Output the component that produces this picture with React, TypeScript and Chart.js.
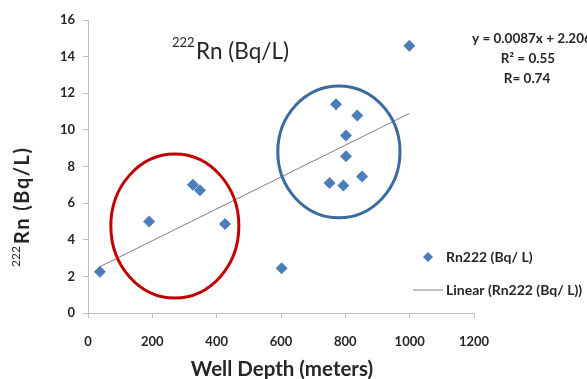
import React, { useEffect, useRef } from "react";
import { Chart, registerables } from "chart.js";

Chart.register(...registerables);

// ---- data ----
const wellDepth: number[] = [37, 190, 326, 348, 426, 602, 999, 771, 837, 802, 802, 751, 794, 852];
const rn222: number[] = [2.25, 5.0, 7.0, 6.7, 4.86, 2.44, 14.6, 11.4, 10.78, 9.69, 8.56, 7.1, 6.96, 7.45];
const trendSlope = [0.0087];
const trendIntercept = [2.206];
const xTicks = [0, 200, 400, 600, 800, 1000, 1200];
const yTicks = [0, 2, 4, 6, 8, 10, 12, 14, 16];
// ellipse annotations: [centerX, centerY, radiusX (m), radiusY (Bq/L)]
const redEllipse = [270, 4.75, 199, 3.93];
const blueEllipse = [780, 8.8, 190, 3.6];
const equationLines = ["y = 0.0087x + 2.206", "R\u00B2 = 0.55", "R= 0.74"];
const legendLabels = ["Rn222 (Bq/ L)", "Linear (Rn222 (Bq/ L))"];

const FONT = "Lato, 'Open Sans', sans-serif";
const TEXT = "#262626";
const MARKER = "#4a7ebb";

const decorPlugin = {
  id: "decor",
  afterDatasetsDraw(chart: any) {
    const ctx = chart.ctx as CanvasRenderingContext2D;
    const xs = chart.scales.x;
    const ys = chart.scales.y;
    const ell = (e: number[], color: string) => {
      const cx = xs.getPixelForValue(e[0]);
      const cy = ys.getPixelForValue(e[1]);
      const rx = Math.abs(xs.getPixelForValue(e[0] + e[2]) - cx);
      const ry = Math.abs(ys.getPixelForValue(e[1] + e[3]) - cy);
      ctx.save();
      ctx.beginPath();
      ctx.ellipse(cx, cy, rx, ry, 0, 0, Math.PI * 2);
      ctx.strokeStyle = color;
      ctx.lineWidth = 3;
      ctx.stroke();
      ctx.restore();
    };
    ell(redEllipse, "#c00000");
    ell(blueEllipse, "#3a6a9e");

    ctx.save();
    ctx.fillStyle = TEXT;
    ctx.textBaseline = "alphabetic";
    // chart title with superscript
    ctx.textAlign = "left";
    ctx.font = `13px ${FONT}`;
    ctx.fillText("222", 172, 47);
    ctx.font = `22.5px ${FONT}`;
    ctx.fillText("Rn (Bq/L)", 196, 59);

    // equation block
    ctx.font = `bold 13.5px ${FONT}`;
    ctx.textAlign = "left";
    ctx.fillText(equationLines[0], 472, 43);
    ctx.textAlign = "center";
    ctx.fillText(equationLines[1], 528, 63);
    ctx.fillText(equationLines[2], 527, 83);

    // legend
    ctx.textAlign = "left";
    ctx.font = `bold 14px ${FONT}`;
    ctx.fillText(legendLabels[0], 446, 262);
    ctx.fillText(legendLabels[1], 446, 295);
    ctx.beginPath();
    ctx.moveTo(428, 252);
    ctx.lineTo(433, 257);
    ctx.lineTo(428, 262);
    ctx.lineTo(423, 257);
    ctx.closePath();
    ctx.fillStyle = MARKER;
    ctx.fill();
    ctx.beginPath();
    ctx.moveTo(413, 290);
    ctx.lineTo(443, 290);
    ctx.strokeStyle = "#808080";
    ctx.lineWidth = 1;
    ctx.stroke();

    // x axis title
    ctx.fillStyle = TEXT;
    ctx.textAlign = "center";
    ctx.font = `bold 20.5px ${FONT}`;
    ctx.fillText("Well Depth (meters)", 282, 376);

    // y axis title (rotated)
    ctx.translate(0, 0);
    ctx.rotate(-Math.PI / 2);
    ctx.textAlign = "left";
    ctx.font = `12px ${FONT}`;
    ctx.fillText("222", -267, 20);
    ctx.font = `bold 20px ${FONT}`;
    (ctx as any).letterSpacing = "1.5px";
    ctx.fillText("Rn (Bq/L)", -244, 29);
    (ctx as any).letterSpacing = "0px";
    ctx.restore();
  },
};

export default function App() {
  const ref = useRef<HTMLCanvasElement>(null);
  useEffect(() => {
    document.body.style.margin = "0";
    const minX = Math.min(...wellDepth);
    const maxX = Math.max(...wellDepth);
    const trend = [minX, maxX].map((x) => ({ x, y: trendSlope[0] * x + trendIntercept[0] }));
    const chart = new Chart(ref.current!, {
      type: "scatter",
      data: {
        datasets: [
          {
            label: legendLabels[0],
            data: wellDepth.map((x, i) => ({ x, y: rn222[i] })),
            pointStyle: "rectRot",
            pointRadius: 6,
            backgroundColor: MARKER,
            borderColor: MARKER,
            borderWidth: 0,
          },
          {
            type: "line",
            label: legendLabels[1],
            data: trend,
            borderColor: "#7f7f7f",
            borderWidth: 1,
            pointRadius: 0,
            showLine: true,
          } as any,
        ],
      },
      options: {
        responsive: false,
        animation: false,
        layout: { padding: { left: 0, right: 113, top: 20, bottom: 0 } },
        plugins: { legend: { display: false }, tooltip: { enabled: false }, title: { display: false } },
        scales: {
          x: {
            type: "linear",
            min: 0,
            max: 1200,
            afterBuildTicks: (s: any) => {
              s.ticks = xTicks.map((v) => ({ value: v }));
            },
            afterFit: (s: any) => {
              s.height = 66;
            },
            ticks: {
              color: TEXT,
              font: { family: FONT, size: 13, weight: "bold" },
              padding: 16,
              callback: (v: any) => String(v),
            },
            grid: { drawOnChartArea: false, drawTicks: true, tickLength: 5, color: "#bfbfbf" },
            border: { color: "#bfbfbf" },
          },
          y: {
            type: "linear",
            min: 0,
            max: 16,
            afterBuildTicks: (s: any) => {
              s.ticks = yTicks.map((v) => ({ value: v }));
            },
            afterFit: (s: any) => {
              s.width = 88;
            },
            ticks: {
              color: TEXT,
              font: { family: FONT, size: 13, weight: "bold" },
              padding: 8,
              callback: (v: any) => String(v),
            },
            grid: { drawOnChartArea: false, drawTicks: true, tickLength: 5, color: "#bfbfbf" },
            border: { color: "#bfbfbf" },
          },
        },
      },
      plugins: [decorPlugin],
    });
    return () => chart.destroy();
  }, []);
  return (
    <div style={{ width: 587, height: 379, background: "#fff" }}>
      <canvas ref={ref} width={587} height={379} />
    </div>
  );
}
